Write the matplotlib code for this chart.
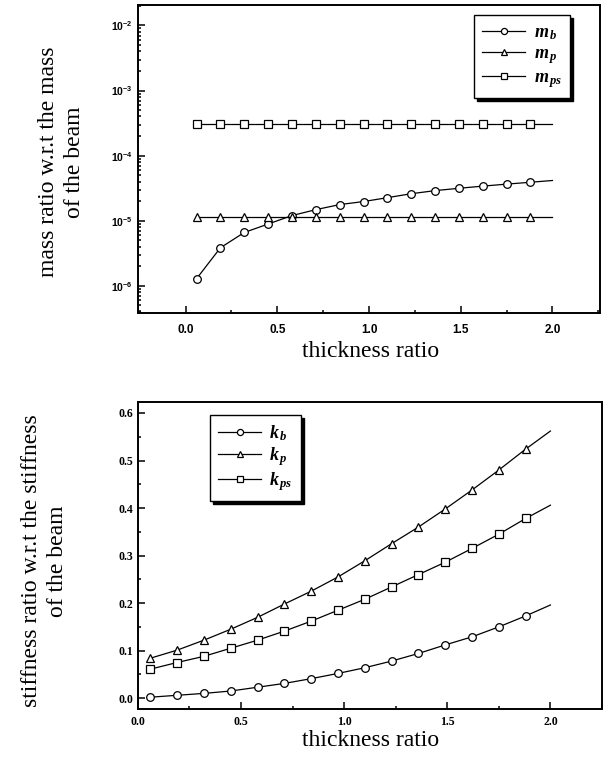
import matplotlib
matplotlib.use("Agg")
import matplotlib.pyplot as plt
from matplotlib.ticker import MultipleLocator, LogLocator, NullFormatter

plt.rcParams['mathtext.fontset'] = 'custom'
plt.rcParams['mathtext.it'] = 'Liberation Serif:italic:bold'
plt.rcParams['mathtext.rm'] = 'Liberation Sans:bold'
plt.rcParams['font.weight'] = 'bold'

# thickness ratio (last point = curve end, no marker)
x = [0.06, 0.19, 0.32, 0.45, 0.58, 0.71, 0.84, 0.97, 1.10, 1.23,
     1.36, 1.49, 1.62, 1.75, 1.88, 2.0]

# mass ratios
m_b = [1.29e-6, 3.85e-6, 6.6e-6, 8.9e-6, 1.2e-5, 1.48e-5, 1.77e-5, 1.97e-5,
       2.26e-5, 2.6e-5, 2.9e-5, 3.15e-5, 3.4e-5, 3.65e-5, 3.9e-5, 4.15e-5]
m_p = [1.13e-5, 1.13e-5, 1.13e-5, 1.13e-5, 1.13e-5, 1.13e-5, 1.13e-5, 1.13e-5,
       1.13e-5, 1.13e-5, 1.13e-5, 1.13e-5, 1.13e-5, 1.13e-5, 1.13e-5, 1.13e-5]
m_ps = [3.1e-4, 3.1e-4, 3.1e-4, 3.1e-4, 3.1e-4, 3.1e-4, 3.1e-4, 3.1e-4,
        3.1e-4, 3.1e-4, 3.1e-4, 3.1e-4, 3.1e-4, 3.1e-4, 3.1e-4, 3.1e-4]

# stiffness ratios
k_b = [0.002, 0.006, 0.010, 0.015, 0.023, 0.031, 0.041, 0.052, 0.064, 0.078,
       0.094, 0.112, 0.129, 0.150, 0.173, 0.196]
k_p = [0.084, 0.101, 0.122, 0.145, 0.170, 0.198, 0.225, 0.255, 0.289, 0.325,
       0.360, 0.398, 0.438, 0.480, 0.524, 0.562]
k_ps = [0.061, 0.075, 0.088, 0.105, 0.122, 0.141, 0.162, 0.185, 0.208, 0.234,
        0.260, 0.286, 0.315, 0.345, 0.378, 0.406]

mass_labels = [r'$m_{\,b}$', r'$m_{\,p}$', r'$m_{\,ps}$']
stiff_labels = [r'$k_{\,b}$', r'$k_{\,p}$', r'$k_{\,ps}$']
markers = ['o', '^', 's']

serif = 'Liberation Serif'
sans = 'Liberation Sans'

fig = plt.figure(figsize=(6.05, 7.6), dpi=100)
ax1 = fig.add_axes([0.228, 0.588, 0.764, 0.405])
ax2 = fig.add_axes([0.228, 0.067, 0.767, 0.404])

style = dict(color='black', lw=0.9, markersize=5.5, markerfacecolor='white',
             markeredgecolor='black', markeredgewidth=0.9, markevery=list(range(15)))

for ys, mk, lab in zip([m_b, m_p, m_ps], markers, mass_labels):
    ax1.plot(x, ys, marker=mk, label=lab, **style)
for ys, mk, lab in zip([k_b, k_p, k_ps], markers, stiff_labels):
    ax2.plot(x, ys, marker=mk, label=lab, **style)

ax1.set_yscale('log')
ax1.set_xlim(-0.26, 2.26)
ax1.set_ylim(10 ** -6.42, 10 ** -1.69)
ax1.yaxis.set_major_locator(LogLocator(base=10, numticks=10))
ax1.yaxis.set_minor_locator(LogLocator(base=10, subs=range(2, 10), numticks=20))
ax1.yaxis.set_minor_formatter(NullFormatter())
ax1.xaxis.set_major_locator(MultipleLocator(0.5))
ax1.xaxis.set_minor_locator(MultipleLocator(0.25))

ax2.set_xlim(0, 2.25)
ax2.set_ylim(-0.023, 0.623)
ax2.xaxis.set_major_locator(MultipleLocator(0.5))
ax2.xaxis.set_minor_locator(MultipleLocator(0.25))
ax2.yaxis.set_major_locator(MultipleLocator(0.1))
ax2.yaxis.set_minor_locator(MultipleLocator(0.05))

for ax in (ax1, ax2):
    for sp in ax.spines.values():
        sp.set_linewidth(1.4)
    ax.tick_params(which='both', direction='in', top=False, right=False, width=1.1)
    ax.tick_params(which='major', length=5)
    ax.tick_params(which='minor', length=2.5)

ax1.tick_params(axis='x', labelsize=8.5, labelfontfamily=sans, pad=8)
ax1.tick_params(axis='y', labelsize=7.5, labelfontfamily=sans)
ax2.tick_params(axis='both', labelsize=8.5, labelfontfamily=serif)
ax2.tick_params(axis='x', pad=5)

leg_kw = dict(numpoints=1, fancybox=False, framealpha=1, edgecolor='black',
              handlelength=2.4, handletextpad=0.45, labelspacing=0.12,
              borderpad=0.45, borderaxespad=0, markerscale=0.8,
              shadow={'color': 'black', 'alpha': 1}, prop={'size': 13})
l1 = ax1.legend(loc='upper right', bbox_to_anchor=(0.935, 0.968), **leg_kw)
l2 = ax2.legend(loc='upper left', bbox_to_anchor=(0.155, 0.958), **leg_kw)
for lg in (l1, l2):
    lg.get_frame().set_linewidth(1.0)

fig.text(0.102, 0.787, 'mass ratio w.r.t the mass\nof the beam', rotation=90,
         ha='center', va='center', multialignment='center',
         family=serif, weight='normal', fontsize=17, linespacing=1.3)
fig.text(0.613, 0.537, 'thickness ratio', ha='center', va='center',
         family=serif, weight='normal', fontsize=17)
fig.text(0.074, 0.262, 'stiffness ratio w.r.t the stiffness\nof the beam', rotation=90,
         ha='center', va='center', multialignment='center',
         family=serif, weight='normal', fontsize=17, linespacing=1.3)
fig.text(0.612, 0.026, 'thickness ratio', ha='center', va='center',
         family=serif, weight='normal', fontsize=17)

fig.savefig('out.png', dpi=100)
